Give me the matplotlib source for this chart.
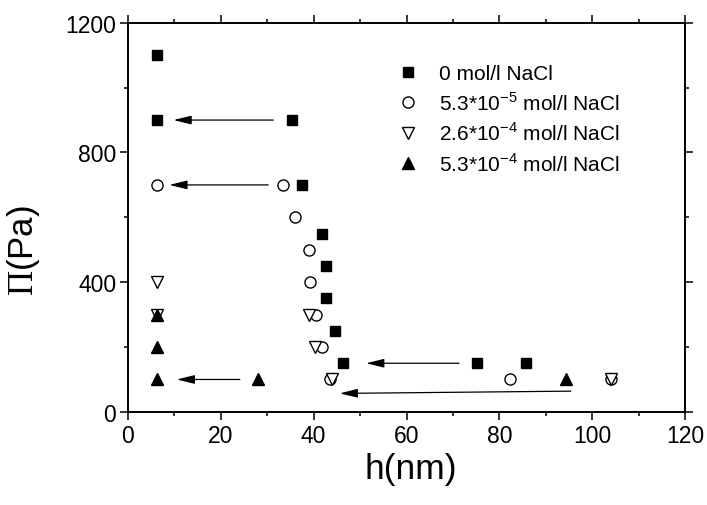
import matplotlib
matplotlib.use("Agg")
import matplotlib.pyplot as plt
from matplotlib.ticker import MultipleLocator

plt.rcParams['font.family'] = ['Liberation Sans', 'DejaVu Sans']
plt.rcParams['mathtext.fontset'] = 'custom'
plt.rcParams['mathtext.rm'] = 'Liberation Serif'
plt.rcParams['mathtext.sf'] = 'Liberation Sans'

# donnees : h (nm) et Pi (Pa)
h_0 = [6.3, 6.3, 35.3, 37.4, 41.7, 42.7, 42.7, 44.6, 46.4, 75.2, 85.8]
p_0 = [1100, 900, 900, 700, 550, 450, 350, 250, 150, 150, 150]

h_53e5 = [6.3, 33.3, 36.0, 38.9, 39.2, 40.5, 41.7, 43.5, 82.3, 104.1]
p_53e5 = [700, 700, 600, 500, 400, 300, 200, 100, 100, 100]

h_26e4 = [6.3, 6.3, 39.1, 40.3, 44.0, 104.1]
p_26e4 = [400, 300, 300, 200, 100, 100]

h_53e4 = [6.3, 6.3, 6.3, 28.1, 94.3]
p_53e4 = [300, 200, 100, 100, 100]

labels = ['0 mol/l NaCl',
          r'5.3*10$^{\mathsf{-5}}$ mol/l NaCl',
          r'2.6*10$^{\mathsf{-4}}$ mol/l NaCl',
          r'5.3*10$^{\mathsf{-4}}$ mol/l NaCl']

# fleches : (h depart, Pi depart) -> (h arrivee, Pi arrivee)
fleche_debut = [(31.3, 900), (30.2, 700), (24.1, 100), (71.3, 150), (95.4, 64)]
fleche_fin = [(9.8, 900), (8.9, 700), (10.5, 100), (51.3, 150), (45.6, 57)]

fig = plt.figure(figsize=(7.07, 5.06), dpi=100)
ax = fig.add_axes([0.181, 0.184, 0.788, 0.769])

ax.plot(h_0, p_0, 's', color='black', markersize=7.5, label=labels[0])
ax.plot(h_53e5, p_53e5, 'o', mfc='white', mec='black', mew=1.0, markersize=8, label=labels[1])
ax.plot(h_26e4, p_26e4, 'v', mfc='white', mec='black', mew=1.0, markersize=8.5, label=labels[2])
ax.plot(h_53e4, p_53e4, '^', color='black', markersize=8.5, label=labels[3])

for d, f in zip(fleche_debut, fleche_fin):
    ax.annotate('', xy=f, xytext=d,
                arrowprops=dict(arrowstyle='-|>,head_length=0.9,head_width=0.22',
                                color='black', lw=0.9, shrinkA=0, shrinkB=0,
                                mutation_scale=12))

ax.set_xlim(0, 120)
ax.set_ylim(0, 1200)
ax.xaxis.set_major_locator(MultipleLocator(20))
ax.xaxis.set_minor_locator(MultipleLocator(10))
ax.yaxis.set_major_locator(MultipleLocator(400))
ax.yaxis.set_minor_locator(MultipleLocator(200))
ax.tick_params(which='both', direction='out', top=True, right=True, width=1.1,
               labelsize=16.5, pad=3)
ax.tick_params(which='major', length=5.5)
ax.tick_params(which='minor', length=3)
for s in ax.spines.values():
    s.set_linewidth(1.4)

ax.set_xlabel('h(nm)', fontsize=25.5)
ax.xaxis.set_label_coords(0.508, -0.103)
ax.set_ylabel(r'$\mathrm{\Pi}$(Pa)', fontsize=25)
ax.yaxis.set_label_coords(-0.155, 0.416)

ax.legend(loc='upper left', bbox_to_anchor=(0.468, 0.915), frameon=False,
          fontsize=15, handletextpad=0.9, labelspacing=0.38, handlelength=1.1,
          borderaxespad=0)

fig.savefig('out.png', dpi=100)
